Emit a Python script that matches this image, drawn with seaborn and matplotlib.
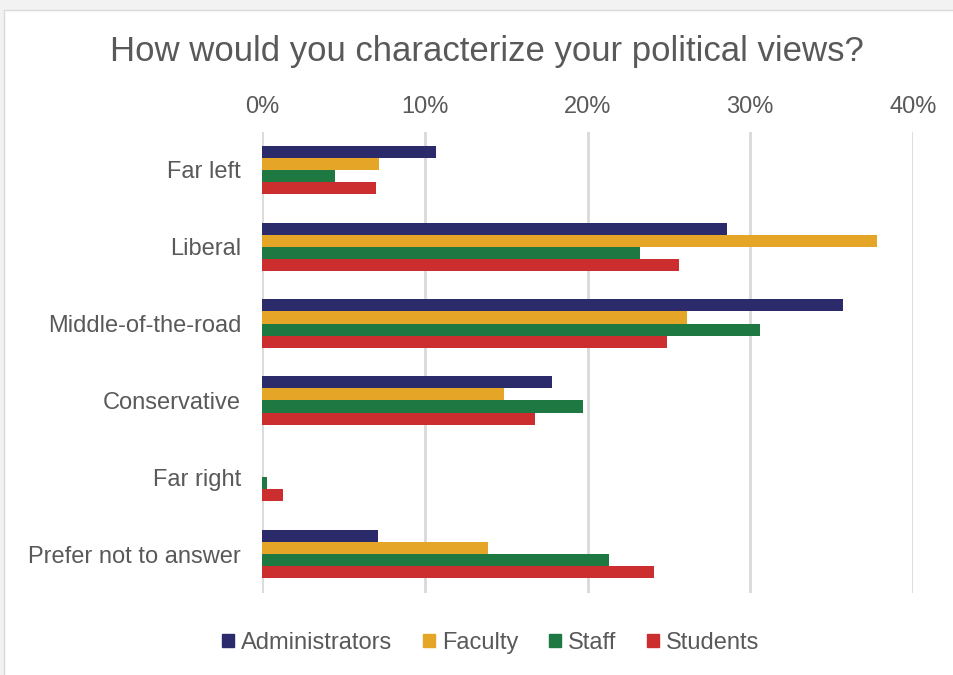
import matplotlib
matplotlib.use("Agg")
import matplotlib.pyplot as plt
import seaborn as sns
import pandas as pd
from matplotlib.patches import Rectangle
from matplotlib.ticker import FuncFormatter

categories = ["Far left", "Liberal", "Middle-of-the-road", "Conservative", "Far right", "Prefer not to answer"]
groups = ["Administrators", "Faculty", "Staff", "Students"]
administrators = [10.7, 28.6, 35.7, 17.8, 0.0, 7.1]
faculty = [7.2, 37.8, 26.1, 14.9, 0.0, 13.9]
staff = [4.5, 23.2, 30.6, 19.7, 0.3, 21.3]
students = [7.0, 25.6, 24.9, 16.8, 1.3, 24.1]
colors = ["#2b2a6b", "#e5a526", "#1e7841", "#cc2e30"]

rows = []
for g, vals in zip(groups, [administrators, faculty, staff, students]):
    for c, v in zip(categories, vals):
        rows.append({"category": c, "group": g, "value": v})
df = pd.DataFrame(rows)

sns.set_theme(style="white")
plt.rcParams['font.family'] = ['Liberation Sans', 'DejaVu Sans']

fig = plt.figure(figsize=(9.54, 6.75), dpi=100)
fig.patch.set_facecolor("#f2f2f2")
bg = Rectangle((4/954, -0.01), 1, 1.01 - 10/675, transform=fig.transFigure,
               facecolor="white", edgecolor="#d9d9d9", lw=1, zorder=-10)
fig.add_artist(bg)
ax = fig.add_axes([262/954, 1 - 592.5/675, (913 - 262)/954, (592.5 - 131.5)/675])
ax.set_facecolor("none")

sns.barplot(data=df, y="category", x="value", hue="group", order=categories,
            hue_order=groups, palette=colors, width=0.63, orient="h",
            saturation=1, ax=ax, legend=False, edgecolor="none")

ax.set_xlim(0, 40)
ax.set_xticks([0, 10, 20, 30, 40])
ax.xaxis.set_major_formatter(FuncFormatter(lambda v, p: f"{int(v)}%"))
ax.xaxis.tick_top()
ax.grid(axis="x", color="#d9d9d9", lw=2)
ax.set_axisbelow(True)
for s in ax.spines.values():
    s.set_visible(False)
ax.tick_params(axis="x", length=0, pad=10, labelsize=17, labelcolor="#595959")
ax.tick_params(axis="y", length=0, pad=15, labelsize=17, labelcolor="#595959")
ax.set_xlabel("")
ax.set_ylabel("")

fig.text(487/954, 1 - 52/675, "How would you characterize your political views?",
         ha="center", va="center", fontsize=25, color="#595959")

handles = [Rectangle((0, 0), 1, 1, color=c) for c in colors]
fig.legend(handles, groups, loc="center", bbox_to_anchor=(491/954, 1 - 643/675),
           ncol=4, frameon=False, fontsize=17, handlelength=0.5, handleheight=0.5,
           handletextpad=0.3, columnspacing=1.3, labelcolor="#595959")

fig.savefig("out.png", dpi=100)
